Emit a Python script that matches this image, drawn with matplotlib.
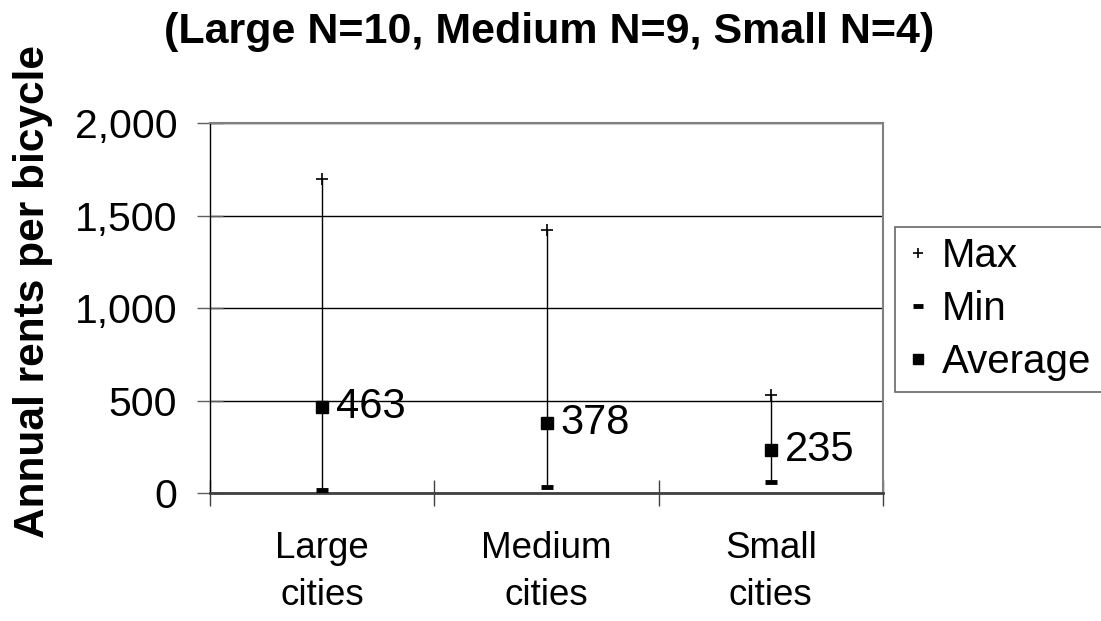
import numpy as np
import matplotlib
matplotlib.use("Agg")
import matplotlib.pyplot as plt
from matplotlib.ticker import FuncFormatter

plt.rcParams['font.family'] = ['Liberation Sans', 'DejaVu Sans']

categories = ["Large\ncities", "Medium\ncities", "Small\ncities"]
max_vals = [1700, 1420, 530]
min_vals = [15, 32, 60]
avg_vals = [463, 378, 235]
title = "(Large N=10, Medium N=9, Small N=4)"

fig = plt.figure(figsize=(11.01, 6.21), dpi=100)
ax = fig.add_axes([210 / 1101, 1 - 493 / 621, 673 / 1101, 370 / 621])

x = np.arange(len(categories)) + 0.5

# high-low line joining min and max
ax.vlines(x, min_vals, max_vals, color='black', lw=1.0, zorder=3)
ax.plot(x, max_vals, ls='none', marker='+', ms=9, mew=1.2, color='black',
        label='Max', zorder=4)
ax.plot(x, min_vals, ls='none', marker='_', ms=9, mew=3.5, color='black',
        label='Min', zorder=4)
ax.plot(x, avg_vals, ls='none', marker='s', ms=9, color='black',
        label='Average', zorder=5)

for xi, v in zip(x, avg_vals):
    ax.annotate(f"{v}", (xi, v), xytext=(10, 0), textcoords='offset points',
                ha='left', va='center', fontsize=30)

ax.set_xlim(0, 3)
ax.set_ylim(0, 2000)
ax.set_yticks([0, 500, 1000, 1500, 2000])
ax.yaxis.set_major_formatter(FuncFormatter(lambda v, p: f"{int(v):,}"))
ax.grid(axis='y', color='black', lw=1.0)
ax.set_axisbelow(True)

ax.set_xticks([0, 1, 2, 3])
ax.set_xticklabels([])
ax.set_xticks(x, minor=True)
ax.set_xticklabels(categories, minor=True, fontsize=26.5, linespacing=1.45)
ax.tick_params(axis='x', which='major', direction='inout', length=19,
               width=1, color='#404040')
ax.tick_params(axis='x', which='minor', length=0, pad=27)
ax.tick_params(axis='y', direction='inout', length=19, width=1,
               color='#606060', labelsize=29.5, pad=14)

ax.spines['left'].set_color('black')
ax.spines['left'].set_linewidth(1.0)
ax.spines['bottom'].set_color('#404040')
ax.spines['bottom'].set_linewidth(2.0)
for side in ('top', 'right'):
    ax.spines[side].set_color('#808080')
    ax.spines[side].set_linewidth(1.5)

fig.text(549 / 1101, 1 - 32 / 621, title, ha='center', va='center',
         fontsize=31, fontweight='bold')
fig.text(33 / 1101, 1 - 292 / 621, "Annual rents per bicycle", rotation=90,
         ha='center', va='center', fontsize=30.5, fontweight='bold')

leg = fig.legend(loc='upper left', bbox_to_anchor=(895 / 1101, 1 - 227 / 621),
                 fontsize=29, frameon=True, fancybox=False, handlelength=0.6,
                 handletextpad=0.3, labelspacing=0.37, borderpad=0.26,
                 borderaxespad=0, markerscale=0.8)
leg.get_frame().set_edgecolor('#404040')
leg.get_frame().set_linewidth(1.2)

fig.savefig("out.png", dpi=100)
